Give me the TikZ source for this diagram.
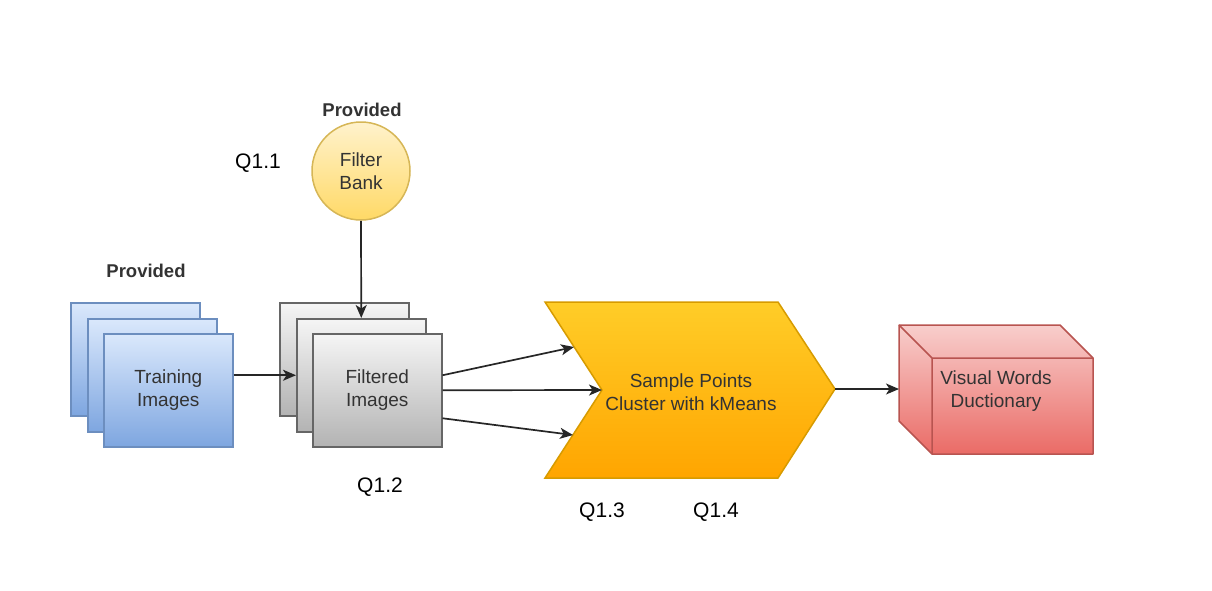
\documentclass[tikz,border=0pt]{standalone}
\usepackage{fontspec}
\setmainfont{Liberation Sans}
\usetikzlibrary{arrows.meta}
\definecolor{blueT}{HTML}{DAE8FC}
\definecolor{blueB}{HTML}{7EA6E0}
\definecolor{blueS}{HTML}{6C8EBF}
\definecolor{grayT}{HTML}{F5F5F5}
\definecolor{grayB}{HTML}{B3B3B3}
\definecolor{grayS}{HTML}{666666}
\definecolor{orT}{HTML}{FFCD28}
\definecolor{orB}{HTML}{FFA500}
\definecolor{orS}{HTML}{D79B00}
\definecolor{yeT}{HTML}{FFF2CC}
\definecolor{yeB}{HTML}{FFD966}
\definecolor{yeS}{HTML}{D6B656}
\definecolor{reT}{HTML}{F8CECC}
\definecolor{reB}{HTML}{EA6B66}
\definecolor{reS}{HTML}{B85450}
\definecolor{txt}{HTML}{333333}
\tikzset{
  boxtext/.style={font=\fontsize{19}{23}\selectfont, text=txt, align=center},
  stackbox/.style={rectangle, line width=1.5pt, minimum width=129pt, minimum height=113pt, inner sep=0pt, anchor=north west, boxtext},
  bluebox/.style={stackbox, draw=blueS, top color=blueT, bottom color=blueB},
  graybox/.style={stackbox, draw=grayS, top color=grayT, bottom color=grayB},
  qlabel/.style={font=\fontsize{21}{25}\selectfont, text=black},
  provlabel/.style={font=\bfseries\fontsize{18.5}{22}\selectfont, text=txt},
  arr/.style={line width=1.7pt, draw=black!85, -{Stealth[length=13pt,width=11pt,inset=3.5pt]}}
}
\begin{document}
\begin{tikzpicture}[x=1pt,y=-1pt]
\useasboundingbox (0,0) rectangle (1212,590);

% labels
\node[provlabel] (prov1) at (362,110) {Provided};
\node[provlabel] (prov2) at (146,271) {Provided};
\node[qlabel] (q11) at (258,163) {Q1.1};
\node[qlabel] (q12) at (380,487) {Q1.2};
\node[qlabel] (q13) at (602,512) {Q1.3};
\node[qlabel] (q14) at (716,512) {Q1.4};

% filter bank
\node[circle, draw=yeS, line width=1.5pt, top color=yeT, bottom color=yeB, minimum size=98pt, inner sep=0pt, boxtext] (fb) at (361,171) {Filter\\Bank};

% training images
\node[bluebox] (tr1) at (70,302) {};
\node[bluebox] (tr2) at (87,318) {};
\node[bluebox] (tr3) at (103,333) {Training\\Images};

% filtered images
\node[graybox] (fi1) at (279,302) {};
\node[graybox] (fi2) at (296,318) {};
\node[graybox] (fi3) at (312,333) {Filtered\\Images};

% chevron
\coordinate (chA) at (545,302);
\coordinate (chB) at (778,302);
\coordinate (chTip) at (835,389);
\coordinate (chC) at (778,478);
\coordinate (chD) at (545,478);
\coordinate (chNotch) at (602,390);
\coordinate (chIn1) at (574,347);
\coordinate (chIn3) at (573,435);
\draw[draw=orS, line width=1.5pt, top color=orT, bottom color=orB]
  (chA) -- (chB) -- (chTip) -- (chC) -- (chD) -- (chNotch) -- cycle;
\node[boxtext] (cl) at (691,392) {Sample Points\\Cluster with kMeans};

% cube
\coordinate (cbA) at (899,325);
\coordinate (cbB) at (1060,325);
\coordinate (cbC) at (1093,358);
\coordinate (cbD) at (1093,454);
\coordinate (cbE) at (932,454);
\coordinate (cbF) at (899,421);
\coordinate (cbG) at (932,358);
\coordinate (cbIn) at (899,389);
\draw[draw=reS, line width=1.5pt, top color=reT, bottom color=reB, line join=round]
  (cbA) -- (cbB) -- (cbC) -- (cbD) -- (cbE) -- (cbF) -- cycle;
\draw[draw=reS, line width=1.5pt, line join=round] (cbA) -- (cbG) -- (cbC) (cbG) -- (cbE);
\node[boxtext] (vw) at (996,391) {Visual Words\\Ductionary};

% connectors
\draw[arr] (fb.south) -- (fi2.north);
\draw[arr] (tr3.east |- fi2.center) -- (fi2.west);
\draw[arr] ([yshift=15pt]fi3.east) -- (chIn1);
\draw[arr] (fi3.east) -- (chNotch);
\draw[arr] ([yshift=-28pt]fi3.east) -- (chIn3);
\draw[arr] (chTip) -- (cbIn);
\end{tikzpicture}
\end{document}
